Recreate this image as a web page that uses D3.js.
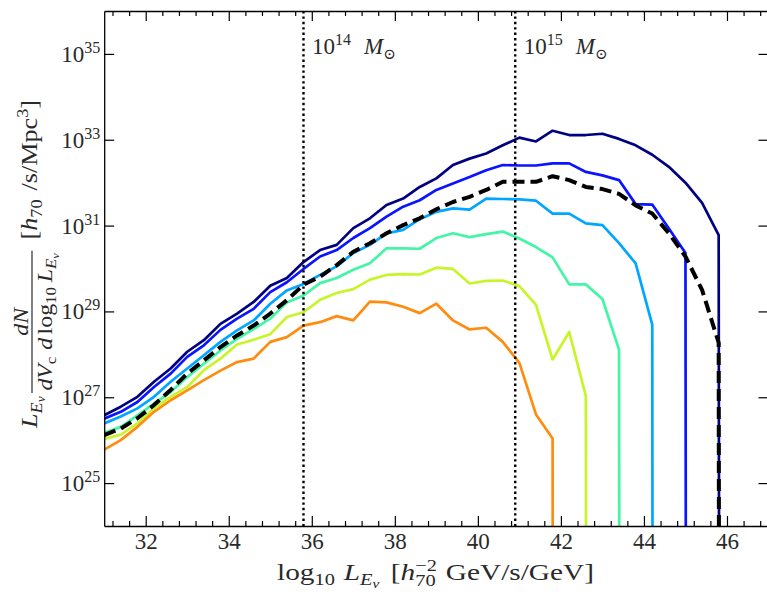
<!DOCTYPE html>
<html>
<head>
<meta charset="utf-8">
<script src="https://cdn.jsdelivr.net/npm/d3@7"></script>
<style>
body { margin: 0; background: #fff; }
svg { display: block; font-family: 'Liberation Serif', 'DejaVu Serif', serif; }
</style>
</head>
<body>
<svg id="chart" width="767" height="592"></svg>
<script>
// luminosity bins, log10 L_Ev
var logL = [31.0, 31.4, 31.8, 32.2, 32.6, 33.0, 33.4, 33.8, 34.2, 34.6, 35.0, 35.4, 35.8,
            36.2, 36.6, 37.0, 37.4, 37.8, 38.2, 38.6, 39.0, 39.4, 39.8, 40.2, 40.6, 41.0,
            41.4, 41.8, 42.2, 42.6, 43.0, 43.4, 43.8, 44.2, 44.6, 45.0, 45.4, 45.8, 46.2];

// log10 of L dN/dVc/dlogL per bin, null = empty bin
var navyLog = [26.58, 26.78, 27.01, 27.36, 27.67, 28.06, 28.33, 28.71, 28.95, 29.22, 29.60, 29.78, 30.15,
               30.43, 30.55, 30.94, 31.17, 31.48, 31.63, 31.90, 32.10, 32.41, 32.56, 32.68, 32.87, 33.05,
               32.96, 33.21, 33.11, 33.11, 33.14, 33.02, 32.87, 32.65, 32.37, 32.00, 31.53, 30.78, null];
var blueLog = [26.50, 26.66, 26.89, 27.24, 27.55, 27.94, 28.21, 28.57, 28.83, 29.06, 29.45, 29.68, 29.99,
               30.28, 30.43, 30.71, 30.94, 31.21, 31.44, 31.59, 31.83, 31.98, 32.13, 32.29, 32.41, 32.40,
               32.40, 32.45, 32.45, 32.25, 32.17, 32.06, 31.50, 31.49, 30.93, 30.36, null];
var skyLog = [26.39, 26.55, 26.74, 27.01, 27.36, 27.67, 27.98, 28.29, 28.56, 28.79, 29.18, 29.49, 29.64,
              29.85, 30.05, 30.36, 30.55, 30.82, 30.90, 31.15, 31.32, 31.40, 31.37, 31.63, 31.62, 31.61,
              31.58, 31.28, 31.28, 31.05, 31.01, 30.59, 30.12, 28.69, null];
var greenLog = [26.17, 26.31, 26.58, 26.85, 27.12, 27.47, 27.78, 28.09, 28.36, 28.59, 28.83, 29.21, 29.37,
                29.66, 29.78, 29.97, 30.12, 30.47, 30.47, 30.46, 30.71, 30.82, 30.73, 30.80, 30.86, 30.70,
                30.50, 30.26, 29.63, 29.63, 29.29, 28.11, null];
var yellowLog = [26.03, 26.13, 26.39, 26.74, 27.01, 27.24, 27.63, 27.90, 28.23, 28.34, 28.47, 28.87, 28.98,
                 29.27, 29.43, 29.52, 29.74, 29.85, 29.87, 29.86, 30.02, 29.99, 29.65, 29.71, 29.72, 29.59,
                 29.15, 27.88, 28.52, 27.03, null];
var orangeLog = [25.78, 26.00, 26.31, 26.66, 26.93, 27.16, 27.40, 27.62, 27.82, 27.90, 28.29, 28.40, 28.67,
                 28.75, 28.89, 28.79, 29.23, 29.21, 29.11, 28.96, 29.18, 28.79, 28.58, 28.62, 28.29, 27.80,
                 26.60, 26.04, null];
var totalLog = [26.12, 26.27, 26.51, 26.82, 27.17, 27.55, 27.86, 28.17, 28.44, 28.67, 28.95, 29.26, 29.62,
                29.81, 30.08, 30.39, 30.59, 30.82, 31.01, 31.17, 31.38, 31.55, 31.67, 31.83, 32.02, 32.02,
                32.02, 32.15, 32.06, 31.90, 31.85, 31.74, 31.47, 31.28, 30.82, 30.28, 29.50, 28.27, null];

// halo mass markers
var massL = [35.8, 40.9];
var massExp = ['14', '15'];

var xTicks = [32, 34, 36, 38, 40, 42, 44, 46];
var yTickExp = [25, 27, 29, 31, 33, 35];

var W = 767, H = 592;
var plotL = 104.2, plotR = 768.5, plotT = 11, plotB = 526;
var ink = '#2a2a2a';
var serif = "'Liberation Serif', 'DejaVu Serif', serif";

var x = d3.scaleLinear().domain([31, 47]).range([plotL, plotR]);
var y = d3.scaleLog().domain([1e24, 1e36]).range([plotB, plotT]);

var svg = d3.select('#chart');
svg.append('rect').attr('width', W).attr('height', H).attr('fill', '#fff');

svg.append('defs').append('clipPath').attr('id', 'plotclip')
  .append('rect')
  .attr('x', plotL).attr('y', plotT)
  .attr('width', plotR - plotL).attr('height', plotB - plotT);

var plot = svg.append('g').attr('clip-path', 'url(#plotclip)');

// empty bins go to a tiny value, like a clipped log axis
function toPoints(vals) {
  return vals.map(function(v, i) {
    return { L: logL[i], v: v == null ? 1e-300 : Math.pow(10, v) };
  });
}

var line = d3.line()
  .x(function(d) { return x(d.L); })
  .y(function(d) { return y(d.v); });

var series = [
  { vals: navyLog, color: '#000080' },
  { vals: blueLog, color: '#0a14ff' },
  { vals: skyLog, color: '#00a6ff' },
  { vals: greenLog, color: '#43f5a5' },
  { vals: yellowLog, color: '#c8f52a' },
  { vals: orangeLog, color: '#ff8c0f' }
];

series.forEach(function(s) {
  plot.append('path')
    .datum(toPoints(s.vals))
    .attr('d', line)
    .attr('fill', 'none')
    .attr('stroke', s.color)
    .attr('stroke-width', 2.7)
    .attr('stroke-linejoin', 'round');
});

plot.append('path')
  .datum(toPoints(totalLog))
  .attr('d', line)
  .attr('fill', 'none')
  .attr('stroke', '#000')
  .attr('stroke-width', 4)
  .attr('stroke-dasharray', '12,6')
  .attr('stroke-linejoin', 'round');

// dotted mass lines
massL.forEach(function(m) {
  plot.append('line')
    .attr('x1', x(m)).attr('x2', x(m))
    .attr('y1', plotT).attr('y2', plotB)
    .attr('stroke', '#000')
    .attr('stroke-width', 2.4)
    .attr('stroke-dasharray', '2.4,3');
});

// --- little helper to set TeX-ish text out of runs ---
function mathRuns(g, runs) {
  var cx = 0, lastStart = 0;
  runs.forEach(function(r) {
    if (r.frac) {
      var start = cx + (r.gap || 0);
      var ng = g.append('g'), dg = g.append('g');
      var nw = mathRuns(ng, r.frac[0]);
      var dw = mathRuns(dg, r.frac[1]);
      var fw = Math.max(nw, dw) + 4;
      ng.attr('transform', 'translate(' + (start + (fw - nw) / 2) + ',' + r.num + ')');
      dg.attr('transform', 'translate(' + (start + (fw - dw) / 2) + ',' + r.den + ')');
      g.append('line')
        .attr('x1', start).attr('x2', start + fw)
        .attr('y1', r.bar).attr('y2', r.bar)
        .attr('stroke', ink).attr('stroke-width', 1.2);
      cx = start + fw; lastStart = start;
      return;
    }
    var s = r.over ? lastStart : cx + (r.gap || 0);
    var t = g.append('text')
      .attr('x', s).attr('y', r.dy || 0)
      .attr('fill', ink)
      .style('font-family', serif)
      .style('font-size', (r.fs || 23) + 'px')
      .style('font-style', r.it ? 'italic' : 'normal')
      .text(r.t);
    var w = t.node().getComputedTextLength();
    if (r.over) { cx = Math.max(cx, s + w); }
    else { cx = s + w; lastStart = s; }
  });
  return cx;
}

function placeMath(parent, runs, px, py, opts) {
  opts = opts || {};
  var g = parent.append('g');
  var inner = g.append('g');
  var w = mathRuns(inner, runs);
  var sc = opts.width ? opts.width / w : 1;
  var shift = opts.anchor === 'middle' ? -w / 2 : (opts.anchor === 'end' ? -w : 0);
  g.attr('transform', 'translate(' + px + ',' + py + ')' +
    (opts.rotate ? ' rotate(' + opts.rotate + ')' : '') +
    ' scale(' + sc + ',1) translate(' + shift + ',0)');
  return g;
}

// --- axes, ticks pointing inward on all sides ---
var minorX = d3.range(-2, 38).filter(function(j) { return j % 5 !== 0; })
  .map(function(j) { return 32 + 0.4 * j; });

function styleAxis(g) {
  g.selectAll('line').attr('stroke', '#000').attr('stroke-width', 1.2);
  g.selectAll('.domain').attr('stroke', '#000').attr('stroke-width', 1.3);
}

svg.append('g')
  .attr('transform', 'translate(0,' + plotB + ')')
  .call(d3.axisBottom(x).tickValues(xTicks).tickSize(-10).tickSizeOuter(0).tickPadding(7)
    .tickFormat(d3.format('d')))
  .attr('font-family', serif)
  .attr('font-size', 23)
  .call(styleAxis)
  .call(function(g) {
    g.selectAll('text')
      .attr('fill', ink)
      .style('font-family', serif)
      .style('font-size', '23px');
  });

svg.append('g')
  .attr('transform', 'translate(0,' + plotB + ')')
  .call(d3.axisBottom(x).tickValues(minorX).tickSize(-5).tickFormat(''))
  .call(styleAxis)
  .call(function(g) { g.select('.domain').remove(); });

svg.append('g')
  .attr('transform', 'translate(0,' + plotT + ')')
  .call(d3.axisTop(x).tickValues(xTicks).tickSize(-10).tickSizeOuter(0).tickFormat(''))
  .call(styleAxis);

svg.append('g')
  .attr('transform', 'translate(0,' + plotT + ')')
  .call(d3.axisTop(x).tickValues(minorX).tickSize(-5).tickFormat(''))
  .call(styleAxis)
  .call(function(g) { g.select('.domain').remove(); });

var yTickVals = yTickExp.map(function(p) { return Math.pow(10, p); });

svg.append('g')
  .attr('transform', 'translate(' + plotL + ',0)')
  .call(d3.axisLeft(y).tickValues(yTickVals).tickSize(-10).tickSizeOuter(0).tickFormat(''))
  .call(styleAxis);

svg.append('g')
  .attr('transform', 'translate(' + plotR + ',0)')
  .call(d3.axisRight(y).tickValues(yTickVals).tickSize(-10).tickSizeOuter(0).tickFormat(''))
  .call(styleAxis);

// y tick labels 10^p
yTickExp.forEach(function(p) {
  placeMath(svg, [{ t: '10' }, { t: String(p), fs: 16, dy: -9 }],
    plotL - 4, y(Math.pow(10, p)) + 8, { anchor: 'end' });
});

// mass annotations
massL.forEach(function(m, i) {
  placeMath(svg, [
    { t: '10' }, { t: massExp[i], fs: 16, dy: -9 },
    { t: 'M', it: 1, gap: 13 }, { t: '\u2299', fs: 15, dy: 5 }
  ], x(m) + 8.5, 53.5);
});

// x label
placeMath(svg, [
  { t: 'log' }, { t: '10', fs: 16, dy: 5 },
  { t: 'L', it: 1, gap: 7 }, { t: 'E', it: 1, fs: 16, dy: 5 }, { t: '\u03bd', it: 1, fs: 12, dy: 8 },
  { t: '[', gap: 9 }, { t: 'h', it: 1 }, { t: '\u22122', fs: 16, dy: -9 }, { t: '70', fs: 16, dy: 6, over: 1 },
  { t: 'GeV/s/GeV]', gap: 7 }
], 435.5, 580, { anchor: 'middle', width: 317 });

// y label
placeMath(svg, [
  { t: 'L', it: 1 }, { t: 'E', it: 1, fs: 16, dy: 5 }, { t: '\u03bd', it: 1, fs: 12, dy: 8 },
  { frac: [
      [{ t: 'dN', it: 1, fs: 21 }],
      [{ t: 'dV', it: 1, fs: 21 }, { t: 'c', fs: 15, dy: 4 },
       { t: 'd', it: 1, fs: 21, gap: 6 }, { t: 'log', fs: 21, gap: 3 }, { t: '10', fs: 15, dy: 4 },
       { t: 'L', it: 1, fs: 21, gap: 4 }, { t: 'E', it: 1, fs: 15, dy: 4 }, { t: '\u03bd', it: 1, fs: 11, dy: 7 }]
    ], gap: 3, num: -9, den: 15, bar: -5 },
  { t: '[', gap: 10 }, { t: 'h', it: 1 }, { t: '70', fs: 16, dy: 5 },
  { t: '/s/Mpc', gap: 8 }, { t: '3', fs: 16, dy: -9 }, { t: ']' }
], 37, 264, { anchor: 'middle', rotate: -90, width: 328 });
</script>
</body>
</html>
